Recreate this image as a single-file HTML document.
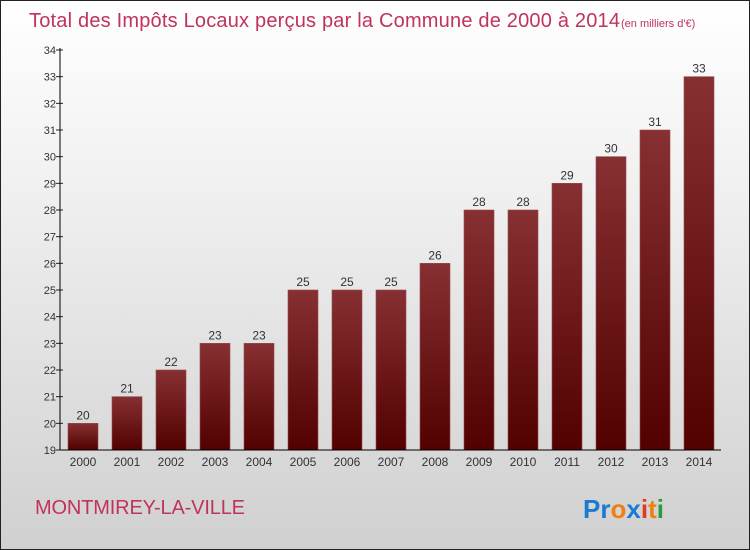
<!DOCTYPE html>
<html><head><meta charset="utf-8"><style>
body{margin:0}
#c{position:relative;width:748px;height:548px;border:1px solid #222;background:linear-gradient(#fff 0%,#f2f2f2 30%,#d0d0d0 100%);overflow:hidden;font-family:"Liberation Sans",sans-serif}
</style></head><body>
<div id="c">
<svg width="748" height="548">
<defs><linearGradient id="bg" x1="0" y1="0" x2="0" y2="1"><stop offset="0" stop-color="#873033"/><stop offset="1" stop-color="#520000"/></linearGradient></defs>
<text x="28" y="26" font-size="20" fill="#c0335a" font-family="Liberation Sans,sans-serif" textLength="591">Total des Impôts Locaux perçus par la Commune de 2000 à 2014</text>
<text x="620" y="26" font-size="11" fill="#c0335a" font-family="Liberation Sans,sans-serif">(en milliers d'€)</text>
<g id="plot"></g>
<text x="34" y="513" font-size="20" fill="#c0335a" font-family="Liberation Sans,sans-serif" textLength="210">MONTMIREY-LA-VILLE</text>
<text x="582" y="517" font-size="26" font-weight="bold" font-family="Liberation Sans,sans-serif"><tspan fill="#1a7ad4">Pr</tspan><tspan fill="#f07f12">o</tspan><tspan fill="#1a7ad4">x</tspan><tspan fill="#e03c1c">i</tspan><tspan fill="#f07f12">t</tspan><tspan fill="#2a9a3a">i</tspan></text>
</svg></div>
<script>
const years=["2000","2001","2002","2003","2004","2005","2006","2007","2008","2009","2010","2011","2012","2013","2014"];
const values=[20,21,22,23,23,25,25,25,26,28,28,29,30,31,33];
const yTicks=[19,20,21,22,23,24,25,26,27,28,29,30,31,32,33,34];
const NS="http://www.w3.org/2000/svg";
const plotG=document.getElementById('plot');
const x0=59,band=44,yMin=19,yMax=34,plotTop=49,plotBot=449;
const yS=v=>plotBot-(v-yMin)/(yMax-yMin)*(plotBot-plotTop);
function mk(t,a){const e=document.createElementNS(NS,t);for(const k in a)e.setAttribute(k,a[k]);plotG.appendChild(e);return e;}
yTicks.forEach(v=>{
 const l=mk('line',{x1:x0-4,x2:x0+3,y1:yS(v),y2:yS(v),stroke:'#222'});
 
 
 const t=mk('text',{x:x0-4,y:yS(v)+4,'font-size':11,'text-anchor':'end',fill:'#333'});t.textContent=v;
 
 
});
values.forEach((v,i)=>{
 const bx=x0+i*band+8;
 const r=mk('rect',{x:bx,y:yS(v),width:30,height:plotBot-yS(v),fill:'url(#bg)',stroke:'#9a4a4a','stroke-width':0.6});
 
 
 const t=mk('text',{x:bx+15,y:yS(v)-4,'font-size':12,'text-anchor':'middle',fill:'#333'});t.textContent=v;
 
 
 const xl=mk('text',{x:bx+15,y:plotBot+16,'font-size':12,'text-anchor':'middle',fill:'#333'});xl.textContent=years[i];
 
 
});
const ya=mk('line',{x1:x0,x2:x0,y1:plotTop-2,y2:plotBot,stroke:'#000'});


const xa=mk('line',{x1:x0,x2:x0+15*band+1,y1:plotBot,y2:plotBot,stroke:'#000'});


</script>
</body></html>
